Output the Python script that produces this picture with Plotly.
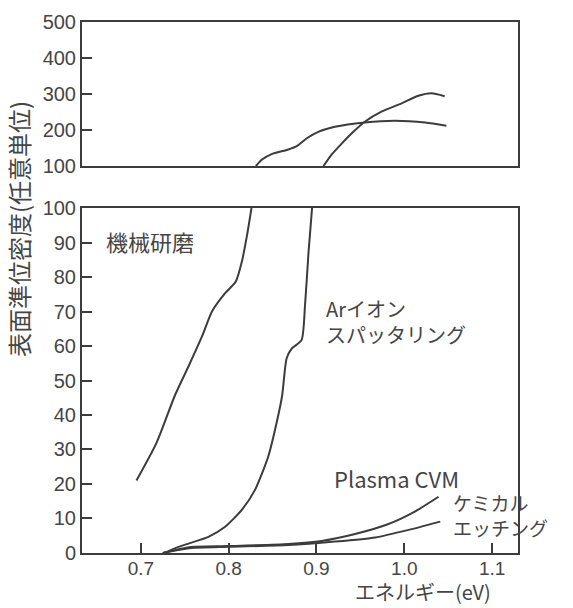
import plotly.graph_objects as go

# ---------------- data ----------------
# 機械研磨 (mechanical polishing): lower panel part and upper panel part
mech_low_x = [0.695, 0.718, 0.739, 0.755, 0.770, 0.781, 0.796, 0.808, 0.815, 0.821, 0.826]
mech_low_y = [21, 32, 45.8, 54.5, 63, 70, 75.3, 78.6, 84.4, 92.2, 100]
mech_high_x = [0.831, 0.838, 0.849, 0.868, 0.878, 0.889, 0.902, 0.921, 0.955, 0.989, 1.024, 1.048]
mech_high_y = [100, 118, 133, 146, 156, 177, 195, 209, 221, 226, 221, 212]

# Arイオンスパッタリング (Ar ion sputtering)
ar_low_x = [0.727, 0.740, 0.755, 0.777, 0.796, 0.815, 0.830, 0.845, 0.857, 0.861,
            0.866, 0.872, 0.883, 0.887, 0.891, 0.895]
ar_low_y = [0, 1.5, 2.8, 4.7, 7.6, 12.5, 18.3, 27.9, 40.5, 45.8,
            56.4, 59.3, 61.7, 71.9, 87.3, 100]
ar_high_x = [0.908, 0.917, 0.929, 0.942, 0.955, 0.974, 0.997, 1.016, 1.031, 1.046]
ar_high_y = [100, 131, 163, 195, 223, 251, 274, 295, 302, 294]

# Plasma CVM (upper of the two low curves)
cvm_x = [0.725, 0.755, 0.800, 0.868, 0.906, 0.944, 0.982, 1.012, 1.039]
cvm_y = [0, 1.7, 2.0, 2.6, 3.5, 5.5, 8.4, 12.0, 16.3]

# ケミカルエッチング (chemical etching, lower curve)
chem_x = [0.725, 0.755, 0.800, 0.868, 0.921, 0.967, 1.005, 1.041]
chem_y = [0, 1.4, 1.8, 2.3, 3.3, 4.5, 6.7, 9.1]

x_ticks = [0.7, 0.8, 0.9, 1.0, 1.1]
x_tick_labels = ["0.7", "0.8", "0.9", "1.0", "1.1"]
low_y_ticks = [0, 10, 20, 30, 40, 50, 60, 70, 80, 90, 100]
high_y_ticks = [100, 200, 300, 400, 500]

# ---------------- styling ----------------
LINE = "#3c3c3c"
TEXT = "#454545"
JP = "Noto Sans CJK JP"
NUM = "Liberation Sans"

fig = go.Figure()


def add_curve(xs, ys, panel):
    xa, ya = ("x", "y") if panel == "low" else ("x2", "y2")
    fig.add_trace(go.Scatter(x=xs, y=ys, mode="lines", xaxis=xa, yaxis=ya,
                             line=dict(color=LINE, width=2, shape="spline", smoothing=0.6),
                             hoverinfo="skip", showlegend=False))


add_curve(mech_low_x, mech_low_y, "low")
add_curve(ar_low_x, ar_low_y, "low")
add_curve(cvm_x, cvm_y, "low")
add_curve(chem_x, chem_y, "low")
add_curve(mech_high_x, mech_high_y, "high")
add_curve(ar_high_x, ar_high_y, "high")

axis_common = dict(showline=True, linecolor=LINE, linewidth=2, mirror=True,
                   showgrid=False, zeroline=False, ticklen=10,
                   tickwidth=1.5, tickcolor=LINE)
num_font = dict(family=NUM, size=20, color=TEXT)

xrange = [0.633, 1.1295]

fig.update_layout(
    width=573, height=608,
    margin=dict(l=82, r=55, t=22, b=55),
    paper_bgcolor="white", plot_bgcolor="white",
    xaxis=dict(domain=[0, 1], range=xrange, tickvals=x_ticks, ticktext=x_tick_labels,
               anchor="y", ticks="inside", tickfont=dict(family=NUM, size=19, color=TEXT),
               ticklabelstandoff=-3, **axis_common),
    yaxis=dict(domain=[0, 0.6497], range=[0, 100], tickvals=low_y_ticks,
               anchor="x", ticks="inside", tickfont=num_font, **axis_common),
    xaxis2=dict(domain=[0, 1], range=xrange, anchor="y2", showticklabels=False,
                ticks="", **axis_common),
    yaxis2=dict(domain=[0.7288, 1], range=[100, 500], tickvals=high_y_ticks,
                anchor="x2", ticks="inside", tickfont=num_font, **axis_common),
)


def label(text, x, y, size=22):
    fig.add_annotation(text=text, x=x, y=y, xref="x", yref="y", xanchor="left",
                       yanchor="middle", align="left", showarrow=False,
                       font=dict(family=JP, size=size, color=TEXT))


label("機械研磨", 0.658, 90.4)
label("Arイオン<br>スパッタリング", 0.909, 67.1, size=20)
label("Plasma CVM", 0.918, 21.7)
label("ケミカル<br>エッチング", 1.053, 10.9, size=19)

# axis titles
fig.add_annotation(text="エネルギー(eV)", xref="paper", yref="paper",
                   x=0.782, y=-0.1036, xanchor="center", yanchor="bottom",
                   showarrow=False, font=dict(family=JP, size=20, color=TEXT))
fig.add_annotation(text="表面準位密度(任意単位)", xref="paper", yref="paper",
                   x=-0.147, y=0.61, xanchor="center", yanchor="middle", textangle=-90,
                   showarrow=False, font=dict(family=JP, size=24, color=TEXT))

fig.write_html("out.html")
